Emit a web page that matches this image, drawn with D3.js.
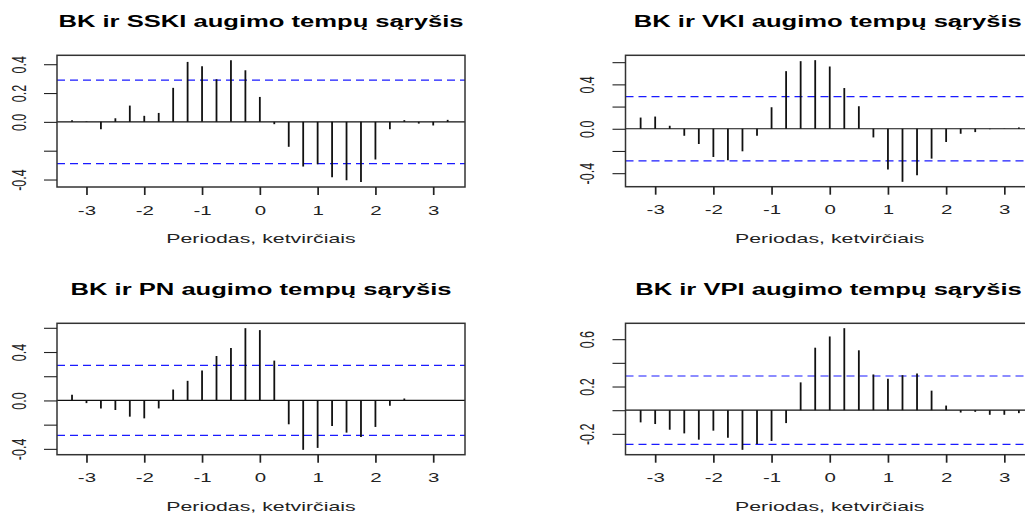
<!DOCTYPE html>
<html>
<head>
<meta charset="utf-8">
<script src="https://cdn.jsdelivr.net/npm/d3@7"></script>
<style>
  body { margin: 0; background: #fff; }
  svg { display: block; }
  text { font-family: "Liberation Sans", Arial, sans-serif; }
</style>
</head>
<body>
<script>
// Lags in quarters (ketvirčiai)
const lags = [-3.25, -3, -2.75, -2.5, -2.25, -2, -1.75, -1.5, -1.25, -1, -0.75, -0.5, -0.25,
              0, 0.25, 0.5, 0.75, 1, 1.25, 1.5, 1.75, 2, 2.25, 2.5, 2.75, 3, 3.25];

// Cross-correlation of BK growth with each indicator
const ccfSSKI = [0.012, 0.003, -0.051, 0.025, 0.113, 0.042, 0.062, 0.236, 0.416, 0.386, 0.296, 0.428, 0.358,
                 0.173, -0.016, -0.173, -0.310, -0.294, -0.384, -0.405, -0.418, -0.261, -0.051, 0.012, -0.012, -0.025, 0.014];
const ccfVKI  = [0.101, 0.110, 0.027, -0.063, -0.137, -0.254, -0.284, -0.203, -0.063, 0.194, 0.519, 0.609, 0.618,
                 0.561, 0.367, 0.203, -0.078, -0.367, -0.478, -0.418, -0.269, -0.119, -0.045, -0.030, -0.004, 0.002, 0.012];
const ccfPN   = [0.047, -0.022, -0.066, -0.079, -0.134, -0.148, -0.066, 0.090, 0.162, 0.247, 0.367, 0.433, 0.597,
                 0.581, 0.329, -0.197, -0.408, -0.392, -0.211, -0.266, -0.301, -0.219, -0.044, 0.016, 0.002, -0.002, 0.001];
const ccfVPI  = [-0.103, -0.117, -0.165, -0.196, -0.249, -0.173, -0.232, -0.335, -0.285, -0.260, -0.109, 0.235, 0.528,
                 0.623, 0.693, 0.506, 0.302, 0.265, 0.296, 0.310, 0.165, 0.039, -0.020, -0.014, -0.039, -0.039, -0.025];

// Approximate 95% significance bound
const ciBound = 0.289;

const titles = [
  "BK ir SSKI augimo tempų sąryšis",
  "BK ir VKI augimo tempų sąryšis",
  "BK ir PN augimo tempų sąryšis",
  "BK ir VPI augimo tempų sąryšis"
];
const xLabel = "Periodas, ketvirčiais";
const xTicks = [-3, -2, -1, 0, 1, 2, 3];

const yTicksSSKI = [-0.4, -0.2, 0, 0.2, 0.4];
const yLabelsSSKI = [-0.4, 0, 0.2, 0.4];
const yTicksVKI = [-0.4, -0.2, 0, 0.2, 0.4, 0.6];
const yLabelsVKI = [-0.4, 0, 0.4];
const yTicksPN = [-0.4, -0.2, 0, 0.2, 0.4, 0.6];
const yLabelsPN = [-0.4, 0, 0.4];
const yTicksVPI = [-0.2, 0, 0.2, 0.4, 0.6];
const yLabelsVPI = [-0.2, 0.2, 0.6];

const W = 1025, H = 515;
const SX = 1.64;       // horizontal stretch of axis lettering
const SX_TITLE = 1.6;  // horizontal stretch of panel titles

const panels = [
  { title: titles[0], values: ccfSSKI, yTicks: yTicksSSKI, yLabels: yLabelsSSKI,
    left: 57, right: 465, top: 55.3, bottom: 187, xDom: [-3.51, 3.55] },
  { title: titles[1], values: ccfVKI, yTicks: yTicksVKI, yLabels: yLabelsVKI,
    left: 625.5, right: 1034, top: 55.3, bottom: 186.7, xDom: [-3.51, 3.51] },
  { title: titles[2], values: ccfPN, yTicks: yTicksPN, yLabels: yLabelsPN,
    left: 57, right: 465, top: 323.3, bottom: 454.7, xDom: [-3.51, 3.55] },
  { title: titles[3], values: ccfVPI, yTicks: yTicksVPI, yLabels: yLabelsVPI,
    left: 625.5, right: 1034, top: 323.3, bottom: 454.7, xDom: [-3.51, 3.51] }
];

const svg = d3.select("body").append("svg")
  .attr("width", W).attr("height", H)
  .attr("viewBox", `0 0 ${W} ${H}`);

const fmt = d3.format(".1f");

panels.forEach(p => {
  const g = svg.append("g");

  // y range: data and bounds, padded by 4%
  const lo = Math.min(d3.min(p.values), -ciBound);
  const hi = Math.max(d3.max(p.values), ciBound);
  const pad = (hi - lo) * 0.04;

  const x = d3.scaleLinear().domain(p.xDom).range([p.left, p.right]);
  const y = d3.scaleLinear().domain([lo - pad, hi + pad]).range([p.bottom, p.top]);
  const cx = (p.left + p.right) / 2;
  // keep the title inside the page on the right-hand column
  const tx = Math.min(cx, W - 2 - 0);

  // title
  const t = g.append("text")
    .attr("text-anchor", "middle")
    .attr("font-size", 16)
    .attr("font-weight", "bold")
    .attr("fill", "#000")
    .text(p.title);
  const half = t.node().getComputedTextLength() * SX_TITLE / 2;
  const tcx = Math.min(tx, W - 3 - half);
  t.attr("transform", `translate(${tcx},${p.top - 28.3}) scale(${SX_TITLE},1)`);

  // zero line
  g.append("line")
    .attr("x1", p.left).attr("x2", p.right)
    .attr("y1", y(0)).attr("y2", y(0))
    .attr("stroke", "#111").attr("stroke-width", 1.2);

  // significance bounds
  [ciBound, -ciBound].forEach(b => {
    g.append("line")
      .attr("x1", p.left).attr("x2", p.right)
      .attr("y1", y(b)).attr("y2", y(b))
      .attr("stroke", "#1a1aff").attr("stroke-width", 1.2)
      .attr("stroke-dasharray", "8,5");
  });

  // correlation spikes
  g.selectAll("line.spike")
    .data(p.values)
    .join("line")
    .attr("class", "spike")
    .attr("x1", (d, i) => x(lags[i])).attr("x2", (d, i) => x(lags[i]))
    .attr("y1", y(0)).attr("y2", d => y(d))
    .attr("stroke", "#111").attr("stroke-width", 1.8);

  // plot box
  g.append("rect")
    .attr("x", p.left).attr("y", p.top)
    .attr("width", p.right - p.left).attr("height", p.bottom - p.top)
    .attr("fill", "none").attr("stroke", "#333").attr("stroke-width", 1.5);

  // x axis
  const xa = g.append("g")
    .attr("transform", `translate(0,${p.bottom})`)
    .call(d3.axisBottom(x).tickValues(xTicks).tickSize(8).tickFormat(d3.format("d")));
  xa.select(".domain").remove();
  xa.selectAll(".tick line").attr("stroke", "#222").attr("stroke-width", 1.7);
  xa.selectAll(".tick text")
    .attr("y", null).attr("dy", null)
    .attr("transform", `translate(0,27.5) scale(${SX},1)`)
    .attr("font-size", 12.5)
    .attr("fill", "#222")
    .text(d => d < 0 ? "-" + Math.abs(d) : String(d));

  // x label
  g.append("text")
    .attr("transform", `translate(${cx},${p.bottom + 56.3}) scale(${SX},1)`)
    .attr("text-anchor", "middle")
    .attr("font-size", 13)
    .attr("fill", "#222")
    .text(xLabel);

  // y axis
  const ya = g.append("g")
    .attr("transform", `translate(${p.left},0)`)
    .call(d3.axisLeft(y).tickValues(p.yTicks).tickSize(13)
      .tickFormat(d => p.yLabels.some(v => Math.abs(v - d) < 1e-9) ? fmt(d).replace("−", "-") : ""));
  ya.select(".domain").remove();
  ya.selectAll(".tick line").attr("stroke", "#222").attr("stroke-width", 1.1);
  ya.selectAll(".tick text")
    .attr("x", null).attr("dy", null)
    .attr("text-anchor", "middle")
    .attr("transform", `translate(-31.5,0) scale(${SX},1) rotate(-90)`)
    .attr("font-size", 12.5)
    .attr("fill", "#222");
});
</script>
</body>
</html>
